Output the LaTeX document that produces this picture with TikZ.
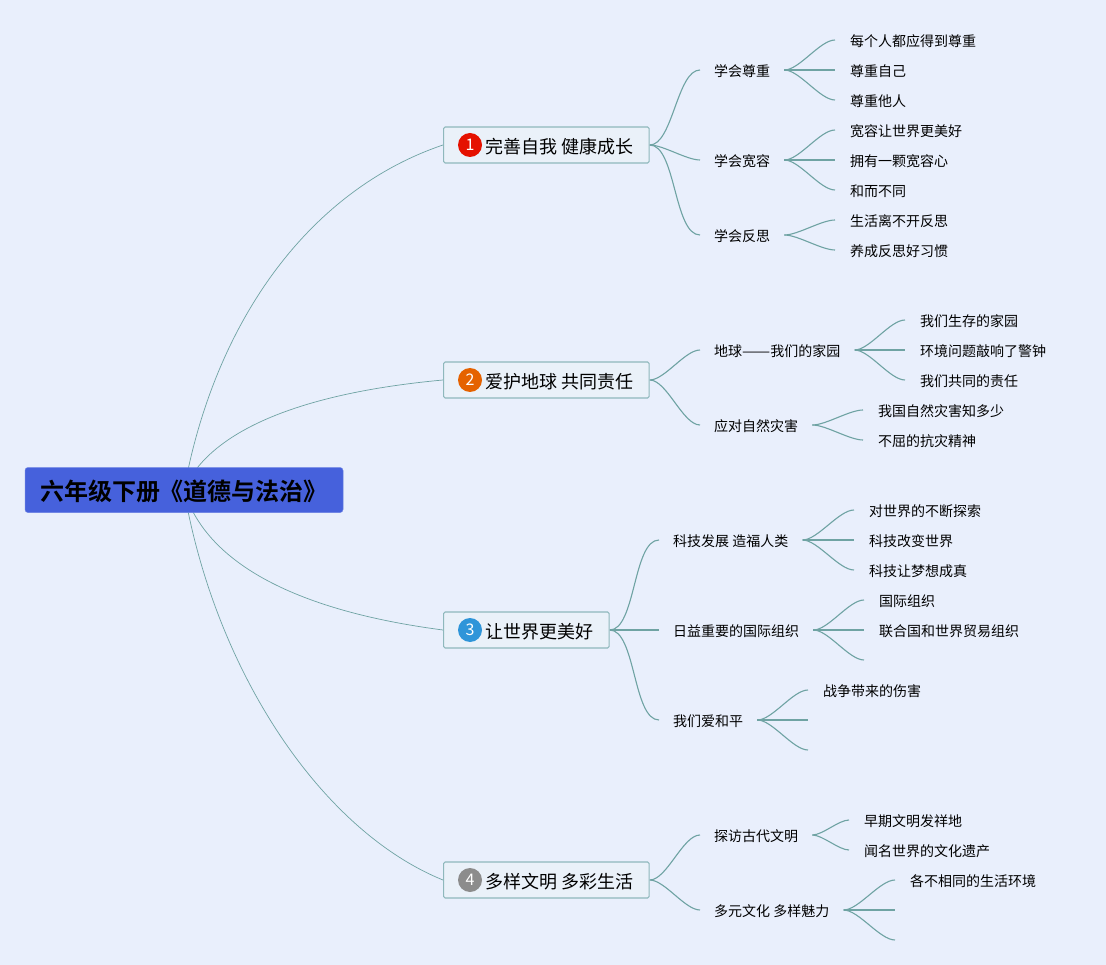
\documentclass[tikz,border=0pt]{standalone}
\usepackage{fontspec}
\usepackage{graphicx}
\setmainfont{Noto Sans CJK SC}
\newfontfamily\rootfont[BoldFont=* Bold]{Noto Sans CJK SC}
\usetikzlibrary{backgrounds}
\definecolor{pagebg}{HTML}{E9EFFC}
\definecolor{rootblue}{HTML}{4661DC}
\definecolor{linegreen}{HTML}{6FA3A3}
\definecolor{boxline}{HTML}{8FB8BC}
\definecolor{topicbg}{HTML}{EAF1F9}
\tikzset{
root/.style={rectangle, rounded corners=3pt, fill=rootblue, draw=rootblue!80!white, line width=0.5pt, text=black, font=\rootfont\bfseries\fontsize{24}{28}\selectfont, minimum width=318pt, minimum height=45pt, inner sep=0pt, text height=24pt, text depth=3pt}, % centre blue box
topic/.style={rectangle, rounded corners=1.5pt, draw=boxline, line width=1.2pt, fill=topicbg, font=\fontsize{18}{22}\selectfont, minimum height=36pt, inner xsep=15.5pt, inner ysep=0pt, anchor=west, text height=19pt, text depth=1.8pt},
badge/.style={circle, inner sep=0pt, minimum size=24pt, text=white, font=\fontsize{16}{18}\selectfont},
sub/.style={font=\fontsize{14}{17}\selectfont, inner xsep=14pt, inner ysep=0pt, anchor=west, text height=14pt, text depth=1.4pt},
leaf/.style={sub, inner xsep=15pt},
rootedge/.style 2 args={to path={.. controls #1 and #2 .. (\tikztotarget)}},
branch/.style={out=0, in=180, looseness=0.65},
}

\begin{document}
\begin{tikzpicture}[x=1pt,y=-1pt]
\useasboundingbox (0,0) rectangle (1106,965);

\node[root] (root) at (184,490) {六年级下册《道德与法治》};

\node[topic] (t1) at (443,145) {\hspace*{26.5pt}完善自我 健康成长};
\node[topic] (t2) at (443,380) {\hspace*{26.5pt}爱护地球 共同责任};
\node[topic] (t3) at (443,630) {\hspace*{26.5pt}让世界更美好};
\node[topic] (t4) at (443,880) {\hspace*{26.5pt}多样文明 多彩生活};

\node[badge, fill=red!85!orange!90!black] (b1) at (470,145) {1};
\node[badge, fill=orange!85!red!90!black] (b2) at (470,380) {2};
\node[badge, fill=cyan!70!blue!85!white] (b3) at (470,630) {3};
\node[badge, fill=gray!90!white] (b4) at (470,880) {4};

% first topic
\node[sub] (a1) at (700,70) {学会尊重};
\node[sub] (a2) at (700,160) {学会宽容};
\node[sub] (a3) at (700,235) {学会反思};
\node[leaf] (a11) at (835,40) {每个人都应得到尊重};
\node[leaf] (a12) at (835,70) {尊重自己};
\node[leaf] (a13) at (835,100) {尊重他人};
\node[leaf] (a21) at (835,130) {宽容让世界更美好};
\node[leaf] (a22) at (835,160) {拥有一颗宽容心};
\node[leaf] (a23) at (835,190) {和而不同};
\node[leaf] (a31) at (835,220) {生活离不开反思};
\node[leaf] (a32) at (835,250) {养成反思好习惯};

% second topic
\node[sub] (c1) at (700,350) {地球\scalebox{1.2}[1]{——}我们的家园};
\node[sub] (c2) at (700,425) {应对自然灾害};
\node[leaf] (c11) at (905,320) {我们生存的家园};
\node[leaf] (c12) at (905,350) {环境问题敲响了警钟};
\node[leaf] (c13) at (905,380) {我们共同的责任};
\node[leaf] (c21) at (863,410) {我国自然灾害知多少};
\node[leaf] (c22) at (863,440) {不屈的抗灾精神};

% third topic
\node[sub] (d1) at (659,540) {科技发展 造福人类};
\node[sub] (d2) at (659,630) {日益重要的国际组织};
\node[sub] (d3) at (659,720) {我们爱和平};
\node[leaf] (d11) at (854,510) {对世界的不断探索};
\node[leaf] (d12) at (854,540) {科技改变世界};
\node[leaf] (d13) at (854,570) {科技让梦想成真};
\node[leaf] (d21) at (864,600) {国际组织};
\node[leaf] (d22) at (864,630) {联合国和世界贸易组织};
\coordinate (d23) at (864,660);
\node[leaf] (d31) at (808,690) {战争带来的伤害};
\coordinate (d32) at (808,720);
\coordinate (d33) at (808,750);

% fourth topic
\node[sub] (e1) at (700,835) {探访古代文明};
\node[sub] (e2) at (700,910) {多元文化 多样魅力};
\node[leaf] (e11) at (849,820) {早期文明发祥地};
\node[leaf] (e12) at (849,850) {闻名世界的文化遗产};
\node[leaf] (e21) at (895,880) {各不相同的生活环境};
\coordinate (e22) at (895,910);
\coordinate (e23) at (895,940);

\begin{scope}[on background layer]
\fill[pagebg] (0,0) rectangle (1106,965);
\draw[linegreen, line width=0.7pt]
(root.center) edge[rootedge={(215,320)}{(310,190)}] (t1.west)
(root.center) edge[rootedge={(205,440)}{(280,395)}] (t2.west)
(root.center) edge[rootedge={(205,560)}{(290,610)}] (t3.west)
(root.center) edge[rootedge={(215,670)}{(320,830)}] (t4.west);
\draw[linegreen, line width=1.1pt]
(t1.east) edge[branch] (a1.west)
(t1.east) edge[branch] (a2.west)
(t1.east) edge[branch] (a3.west)
(a1.east) edge[branch] (a11.west)
(a1.east) edge[branch] (a12.west)
(a1.east) edge[branch] (a13.west)
(a2.east) edge[branch] (a21.west)
(a2.east) edge[branch] (a22.west)
(a2.east) edge[branch] (a23.west)
(a3.east) edge[branch] (a31.west)
(a3.east) edge[branch] (a32.west)
(t2.east) edge[branch] (c1.west)
(t2.east) edge[branch] (c2.west)
(c1.east) edge[branch] (c11.west)
(c1.east) edge[branch] (c12.west)
(c1.east) edge[branch] (c13.west)
(c2.east) edge[branch] (c21.west)
(c2.east) edge[branch] (c22.west)
(t3.east) edge[branch] (d1.west)
(t3.east) edge[branch] (d2.west)
(t3.east) edge[branch] (d3.west)
(d1.east) edge[branch] (d11.west)
(d1.east) edge[branch] (d12.west)
(d1.east) edge[branch] (d13.west)
(d2.east) edge[branch] (d21.west)
(d2.east) edge[branch] (d22.west)
(d2.east) edge[branch] (d23)
(d3.east) edge[branch] (d31.west)
(d3.east) edge[branch] (d32)
(d3.east) edge[branch] (d33)
(t4.east) edge[branch] (e1.west)
(t4.east) edge[branch] (e2.west)
(e1.east) edge[branch] (e11.west)
(e1.east) edge[branch] (e12.west)
(e2.east) edge[branch] (e21.west)
(e2.east) edge[branch] (e22)
(e2.east) edge[branch] (e23);
\end{scope}

\end{tikzpicture}
\end{document}
